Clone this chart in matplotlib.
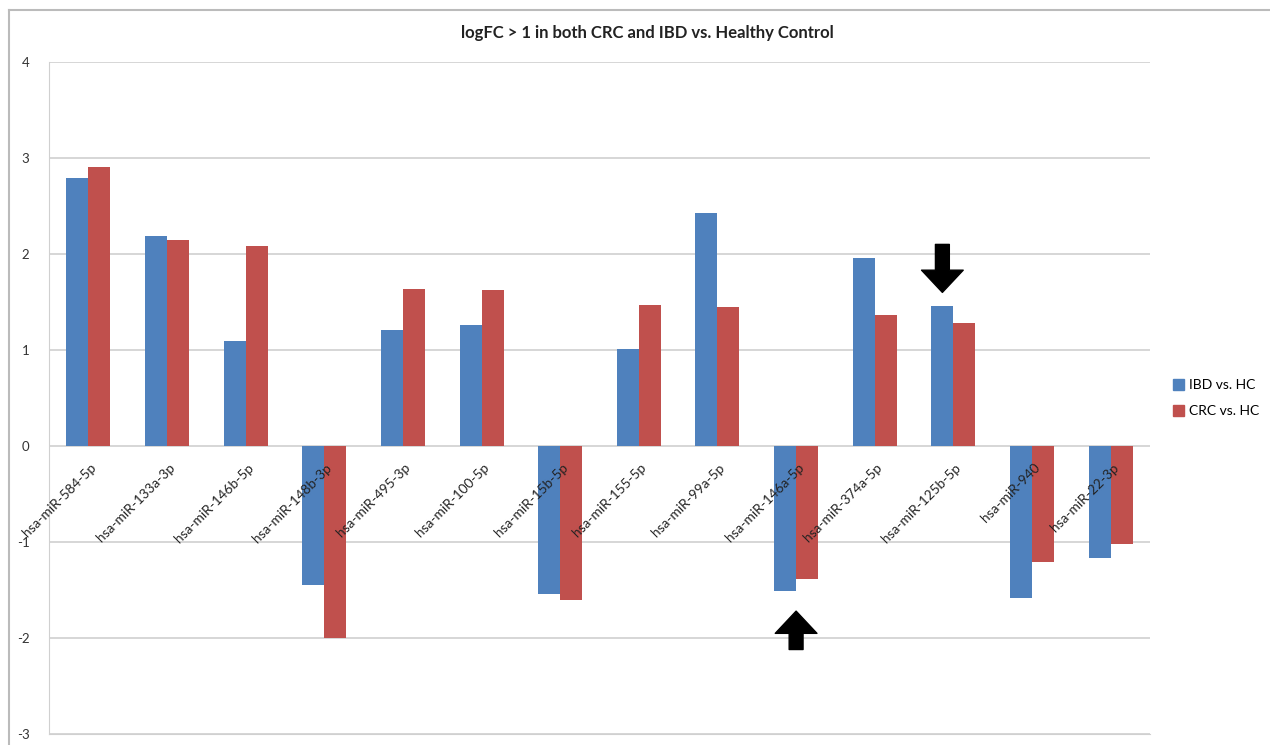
import numpy as np
import matplotlib
matplotlib.use("Agg")
import matplotlib.pyplot as plt
from matplotlib.lines import Line2D

plt.rcParams['font.family'] = ['Lato', 'DejaVu Sans']

# miRNA names and logFC values
mirnas = ['hsa-miR-584-5p', 'hsa-miR-133a-3p', 'hsa-miR-146b-5p', 'hsa-miR-148b-3p',
          'hsa-miR-495-3p', 'hsa-miR-100-5p', 'hsa-miR-15b-5p', 'hsa-miR-155-5p',
          'hsa-miR-99a-5p', 'hsa-miR-146a-5p', 'hsa-miR-374a-5p', 'hsa-miR-125b-5p',
          'hsa-miR-940', 'hsa-miR-22-3p']
ibd_vs_hc = [2.79, 2.19, 1.09, -1.45, 1.21, 1.26, -1.54, 1.01, 2.43, -1.51, 1.96, 1.46, -1.58, -1.17]
crc_vs_hc = [2.91, 2.15, 2.08, -2.00, 1.64, 1.63, -1.60, 1.47, 1.45, -1.39, 1.36, 1.28, -1.21, -1.02]
y_ticks = [-3, -2, -1, 0, 1, 2, 3, 4]

blue = '#4F81BD'
red = '#C0504D'
grid_col = '#D0D0D0'

W, H = 1270, 745
fig = plt.figure(figsize=(W / 100, H / 100), dpi=100)
fig.patch.set_facecolor('white')

# plot area in pixels
left, right, top, bottom = 49, 1150, 62, 734
ax = fig.add_axes([left / W, (H - bottom) / H, (right - left) / W, (bottom - top) / H])

x = np.arange(len(mirnas))
bw = 0.28
ax.bar(x - bw / 2, ibd_vs_hc, bw, color=blue, label='IBD vs. HC', zorder=3)
ax.bar(x + bw / 2, crc_vs_hc, bw, color=red, label='CRC vs. HC', zorder=3)

ax.set_xlim(-0.5, len(mirnas) - 0.5)
ax.set_ylim(-3, 4)
ax.set_yticks(y_ticks)
ax.set_yticklabels([str(t) for t in y_ticks], fontsize=9.5, color='#333333')
for t in y_ticks:
    ax.axhline(t, color=grid_col, lw=1.2, zorder=1)

ax.set_xticks([])
for i, name in enumerate(mirnas):
    ax.annotate(name, xy=(i, 0), xytext=(1, -11), textcoords='offset points',
                rotation=45, ha='right', va='top', rotation_mode='anchor',
                fontsize=9.8, color='#222222', zorder=4)

for s in ['top', 'right']:
    ax.spines[s].set_visible(False)
ax.spines['left'].set_color(grid_col)
ax.spines['bottom'].set_color(grid_col)
ax.tick_params(axis='y', length=0, pad=14)

# arrows marking 146a-5p and 125b-5p
ax.annotate('', xy=(9, -1.72), xytext=(9, -2.12),
            arrowprops=dict(facecolor='black', edgecolor='black', width=10, headwidth=30, headlength=16))
ax.annotate('', xy=(11 - bw / 2, 1.6), xytext=(11 - bw / 2, 2.1),
            arrowprops=dict(facecolor='black', edgecolor='black', width=10, headwidth=30, headlength=16))

fig.text(647 / W, 1 - 33 / H, 'logFC > 1 in both CRC and IBD vs. Healthy Control',
         ha='center', va='center', fontsize=12, fontweight='bold', color='#222222')

handles = [plt.Rectangle((0, 0), 1, 1, color=blue), plt.Rectangle((0, 0), 1, 1, color=red)]
fig.legend(handles, ['IBD vs. HC', 'CRC vs. HC'], loc='center left',
           bbox_to_anchor=(1160 / W, 1 - 398 / H), frameon=False, fontsize=10,
           handlelength=0.8, handleheight=0.8, handletextpad=0.4, labelspacing=1.0)

# chart frame
fig.add_artist(Line2D([9 / W, 1], [1 - 10 / H, 1 - 10 / H], color='#BBBBBB', lw=1.5))
fig.add_artist(Line2D([9 / W, 9 / W], [0, 1 - 10 / H], color='#BBBBBB', lw=1.5))

fig.savefig('out.png', dpi=100)
